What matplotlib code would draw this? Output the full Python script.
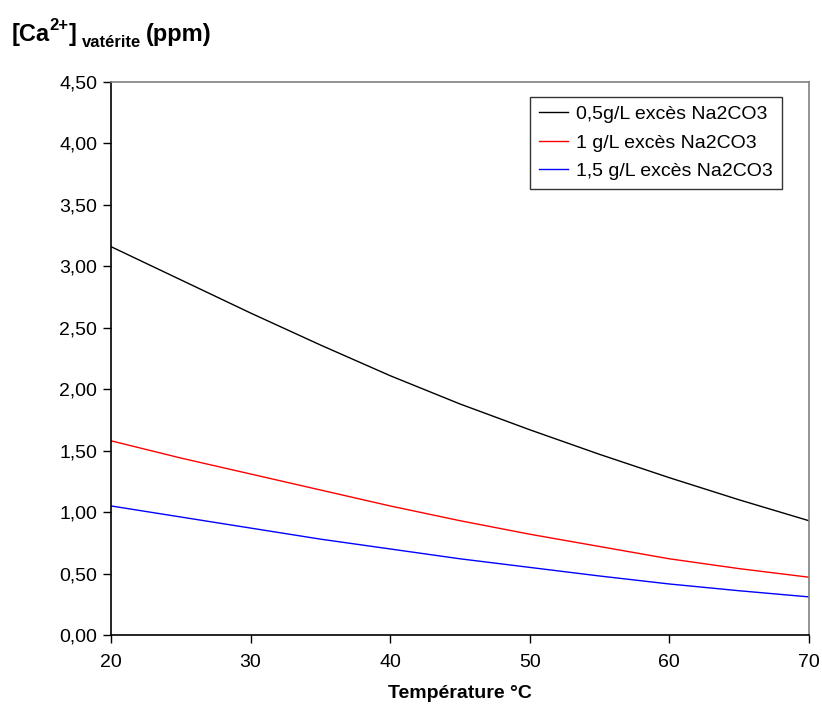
import matplotlib
matplotlib.use('Agg')
import matplotlib.pyplot as plt

plt.rcParams['font.family'] = ['Liberation Sans', 'DejaVu Sans']

# --- data ---
temperature = [20, 25, 30, 35, 40, 45, 50, 55, 60, 65, 70]
ca_05 = [3.16, 2.89, 2.62, 2.36, 2.11, 1.88, 1.67, 1.47, 1.28, 1.10, 0.93]
ca_10 = [1.58, 1.44, 1.31, 1.18, 1.05, 0.93, 0.82, 0.72, 0.62, 0.54, 0.47]
ca_15 = [1.05, 0.96, 0.87, 0.78, 0.70, 0.62, 0.55, 0.48, 0.415, 0.36, 0.31]
labels = ['0,5g/L excès Na2CO3', '1 g/L excès Na2CO3', '1,5 g/L excès Na2CO3']
yticks = [0, 0.5, 1.0, 1.5, 2.0, 2.5, 3.0, 3.5, 4.0, 4.5]
xticks = [20, 30, 40, 50, 60, 70]

fig = plt.figure(figsize=[8.22, 7.09], dpi=100)
ax = fig.add_axes([0.135, 0.1044, 0.849, 0.78])

ax.plot(temperature, ca_05, color='black', lw=1, label=labels[0])
ax.plot(temperature, ca_10, color='red', lw=1, label=labels[1])
ax.plot(temperature, ca_15, color='blue', lw=1, label=labels[2])

ax.set_xlim(20, 70)
ax.set_ylim(0, 4.5)
ax.set_xticks(xticks)
ax.set_yticks(yticks)
ax.set_yticklabels([('%.2f' % v).replace('.', ',') for v in yticks])
ax.tick_params(axis='both', labelsize=14, direction='out', length=6, width=1, color='black')
ax.tick_params(axis='x', pad=8)
ax.tick_params(axis='y', pad=4)

for s in ['left', 'bottom']:
    ax.spines[s].set_color('black')
    ax.spines[s].set_linewidth(1.2)
for s in ['top', 'right']:
    ax.spines[s].set_color('#808080')
    ax.spines[s].set_linewidth(1.2)

ax.set_xlabel('Température °C', fontsize=14, fontweight='bold', labelpad=10)

# y-axis title at top left, built from pieces (superscript / subscript)
t1 = fig.text(0.014, 0.935, '[Ca', fontsize=17, fontweight='bold', va='bottom')
t2 = ax.annotate('2+', xy=(1, 1), xycoords=t1, xytext=(0, -1.5), textcoords='offset points',
                 fontsize=12, fontweight='bold', va='center', annotation_clip=False)
t3 = ax.annotate(']', xy=(1, 0), xycoords=(t2, t1), xytext=(0, 0), textcoords='offset points',
                 fontsize=17, fontweight='bold', va='bottom', annotation_clip=False)
t4 = ax.annotate('vatérite', xy=(1, 0), xycoords=(t3, t1), xytext=(4, -3), textcoords='offset points',
                 fontsize=12, fontweight='bold', va='bottom', annotation_clip=False)
t5 = ax.annotate('(ppm)', xy=(1, 0), xycoords=(t4, t1), xytext=(3, 0), textcoords='offset points',
                 fontsize=17, fontweight='bold', va='bottom', annotation_clip=False)

leg = ax.legend(loc='upper right', bbox_to_anchor=(0.961, 0.973), borderaxespad=0,
                fontsize=14, frameon=True, fancybox=False, handlelength=1.5,
                handletextpad=0.4, labelspacing=0.55, borderpad=0.45)
leg.get_frame().set_edgecolor('black')
leg.get_frame().set_linewidth(1)

fig.savefig('out.png', dpi=100)
